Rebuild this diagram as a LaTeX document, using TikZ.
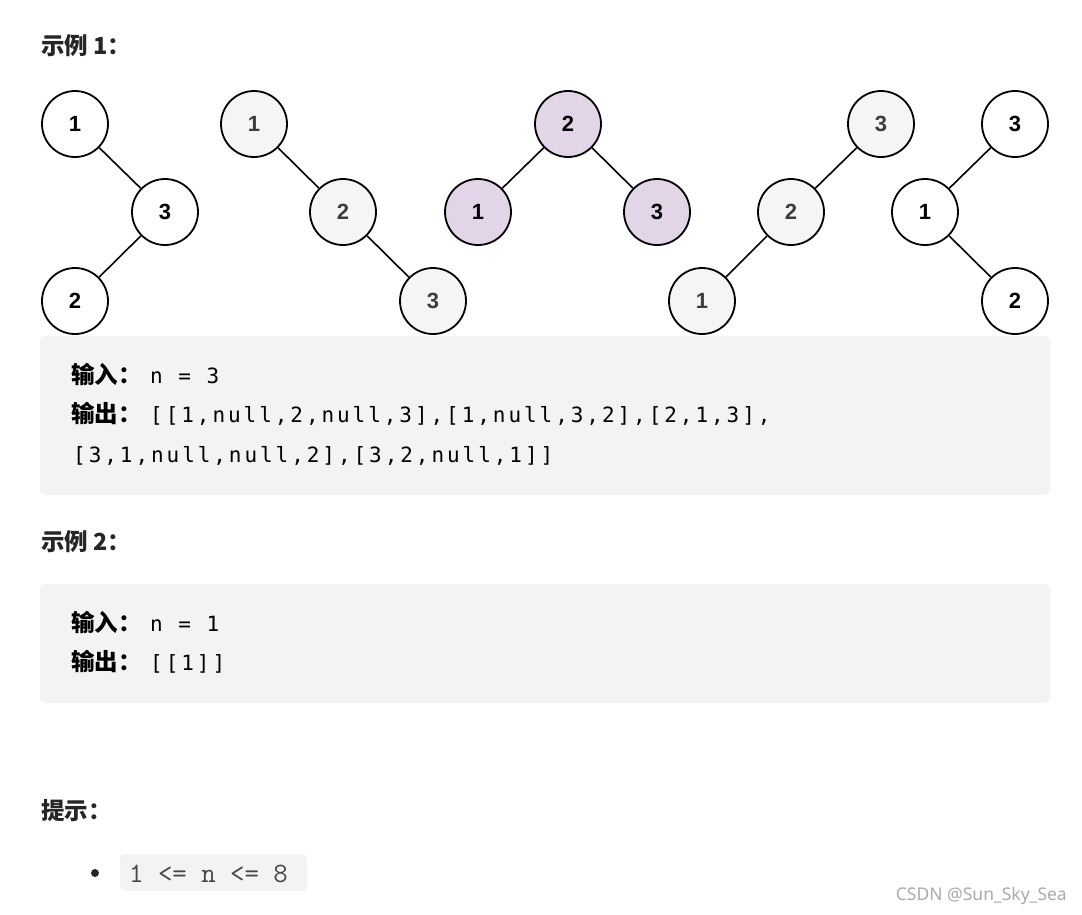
\documentclass[tikz,border=0pt]{standalone}
\usepackage{fontspec}
\setmainfont{Liberation Sans}
\newfontfamily\cjk{Noto Sans CJK SC}
\newfontfamily\monofont[LetterSpace=14]{DejaVu Sans Mono}
\newfontfamily\wmfont{Noto Sans}
\definecolor{boxbg}{RGB}{242,243,245}
\definecolor{headc}{RGB}{38,38,38}
\definecolor{lightfill}{RGB}{245,245,245}
\definecolor{purplefill}{RGB}{225,213,231}
\definecolor{graytext}{RGB}{60,60,60}
\definecolor{codetext}{RGB}{70,70,70}
\definecolor{wmcolor}{RGB}{170,170,170}
\tikzset{
  treenode/.style={circle, draw=black, line width=1.8pt, minimum size=66pt, inner sep=0pt,
    font=\fontsize{22}{22}\selectfont\bfseries},
  whitenode/.style={treenode, fill=white, text=black},
  graynode/.style={treenode, fill=lightfill, text=graytext},
  purplenode/.style={treenode, fill=purplefill, text=black},
  edge/.style={line width=1.6pt, draw=black},
  heading/.style={anchor=base west, inner sep=0pt, text=headc, font=\cjk\bfseries\fontsize{23.5}{23.5}\selectfont},
  codebox/.style={fill=boxbg, rounded corners=6pt, draw=none},
  label/.style={anchor=base west, inner sep=0pt, text=black, font=\cjk\bfseries\fontsize{23.5}{23.5}\selectfont},
  monotext/.style={anchor=base west, inner sep=0pt, text=black, font=\monofont\fontsize{21}{21}\selectfont},
}
\begin{document}
\begin{tikzpicture}[x=1pt, y=-1pt]
\useasboundingbox[fill=white] (0,0) rectangle (1082,914);

% headings
\node[heading] (h1) at (41,54) {示例 1：};

% boxes
\fill[codebox] (40,336) rectangle (1050,495);

% tree 1
\node[whitenode] (a1) at (75,124) {1};
\node[whitenode] (a3) at (165,212) {3};
\node[whitenode] (a2) at (75,301) {2};
\draw[edge] (a1) -- (a3);
\draw[edge] (a3) -- (a2);

% tree 2
\node[graynode] (b1) at (254,124) {1};
\node[graynode] (b2) at (343,212) {2};
\node[graynode] (b3) at (433,301) {3};
\draw[edge] (b1) -- (b2);
\draw[edge] (b2) -- (b3);

% tree 3
\node[purplenode] (c2) at (568,124) {2};
\node[purplenode] (c1) at (478,212) {1};
\node[purplenode] (c3) at (657,212) {3};
\draw[edge] (c2) -- (c1);
\draw[edge] (c2) -- (c3);

% tree 4
\node[graynode] (d3) at (881,124) {3};
\node[graynode] (d2) at (791,212) {2};
\node[graynode] (d1) at (702,301) {1};
\draw[edge] (d3) -- (d2);
\draw[edge] (d2) -- (d1);

% tree 5
\node[whitenode] (e3) at (1015,124) {3};
\node[whitenode] (e1) at (925,212) {1};
\node[whitenode] (e2) at (1015,301) {2};
\draw[edge] (e3) -- (e1);
\draw[edge] (e1) -- (e2);

% box 1 text
\node[label] (in1) at (71,383) {输入：};
\node[monotext] (in1v) at (150,383) {n = 3};
\node[label] (out1) at (71,422) {输出：};
\node[monotext] (out1v) at (150,422) {[[1,null,2,null,3],[1,null,3,2],[2,1,3],};
\node[monotext] (out1w) at (73,462) {[3,1,null,null,2],[3,2,null,1]]};

% example 2
\node[heading] (h2) at (41,550) {示例 2：};
\fill[codebox] (40,584) rectangle (1050,703);
\node[label] (in2) at (71,631) {输入：};
\node[monotext] (in2v) at (150,631) {n = 1};
\node[label] (out2) at (71,670) {输出：};
\node[monotext] (out2v) at (150,670) {[[1]]};

% hints
\node[heading] (h3) at (41,819) {提示：};
\fill[black!85] (95,873) circle (4pt);
\node[fill=boxbg, rounded corners=5pt, minimum width=187pt, minimum height=37pt, inner sep=0pt] (code) at (213.5,872.5) {};
\node[anchor=base west, inner sep=0pt, text=codetext, font=\ttfamily\fontsize{28}{28}\selectfont] (codet) at (129,882) {1 <= n <= 8};

% watermark
\node[anchor=base east, inner sep=0pt, text=wmcolor, font=\wmfont\fontsize{17.5}{17.5}\selectfont] (wm) at (1067,900) {CSDN @Sun\_Sky\_Sea};
\end{tikzpicture}
\end{document}
